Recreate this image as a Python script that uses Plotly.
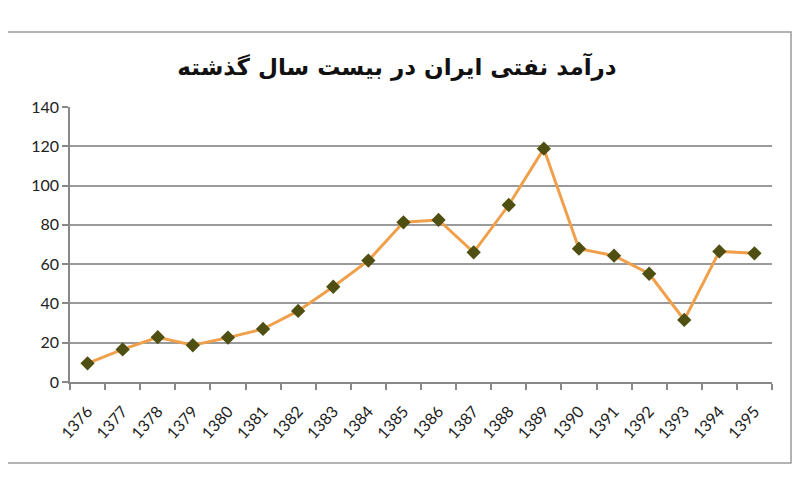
import plotly.graph_objects as go

years = [str(y) for y in range(1376, 1396)]
revenue = [9.5, 16.6, 22.8, 18.7, 22.6, 27.0, 36.2, 48.5, 61.8, 81.3,
           82.5, 66.0, 90.1, 118.8, 67.9, 64.3, 55.1, 31.6, 66.5, 65.5]
y_ticks = [0, 20, 40, 60, 80, 100, 120, 140]
title_text = "درآمد نفتی ایران در بیست سال گذشته"

# page body has an 8px margin; lay out in figure coordinates
OFF = 8
W, H = 800 - OFF, 500 - OFF
ML, MR, MT, MB = 70 - OFF, 800 - 772, 107 - OFF, 500 - 382
pw, ph = W - ML - MR, H - MT - MB

def px2paper_x(px):
    return (px - OFF - ML) / pw

def px2paper_y(py):
    return (H - MB - (py - OFF)) / ph

fig = go.Figure()
fig.add_trace(go.Scatter(
    x=years, y=revenue, mode="lines+markers",
    line=dict(color="#F0A04B", width=3),
    marker=dict(symbol="diamond", size=11, color="#4F4F12",
                line=dict(color="#4F4F12", width=0)),
    showlegend=False, cliponaxis=False,
))

fig.update_layout(
    width=W, height=H,
    margin=dict(l=ML, r=MR, t=MT, b=MB),
    paper_bgcolor="white", plot_bgcolor="white",
    title=dict(text="<b>" + title_text + "</b>", x=(397 - OFF) / W, xanchor="center",
               y=1 - (67 - OFF) / H, yanchor="middle",
               font=dict(family="DejaVu Sans", size=23, color="#111111")),
    xaxis=dict(type="category", tickangle=-48, tickson="boundaries",
               ticks="outside", ticklen=6, tickcolor="#888888", tickwidth=1.5,
               showline=True, linecolor="#888888", linewidth=1.5,
               showgrid=False, ticklabelstandoff=12,
               tickfont=dict(family="Lato", size=16, color="#222222"),
               range=[-0.5, len(years) - 0.5], automargin=False),
    yaxis=dict(range=[0, 140], tickvals=y_ticks, ticks="outside", ticklen=6,
               tickcolor="#888888", tickwidth=1.5,
               showline=True, linecolor="#888888", linewidth=1.5,
               showgrid=True, gridcolor="#9a9a9a", gridwidth=1.5,
               zeroline=False, automargin=False,
               tickfont=dict(family="Lato", size=16, color="#222222")),
    shapes=[dict(type="rect", xref="paper", yref="paper",
                 x0=px2paper_x(4), x1=px2paper_x(791),
                 y0=px2paper_y(463), y1=px2paper_y(32),
                 line=dict(color="#9a9a9a", width=1.5), layer="below")],
)

fig.write_html("out.html")
